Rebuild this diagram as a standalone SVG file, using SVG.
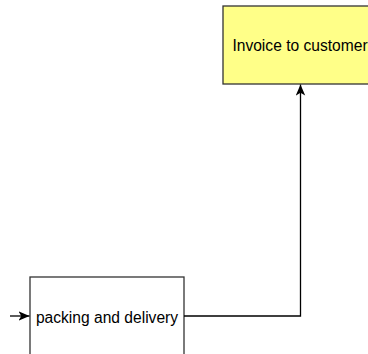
<svg xmlns="http://www.w3.org/2000/svg" width="368" height="354" viewBox="0 0 368 354">
  <style>
    .box { stroke: #333333; stroke-width: 1.3; }
    .label { font-family: "Liberation Sans", Arial, sans-serif; font-size: 15.6px; fill: #000000; text-anchor: middle; }
    .edge { fill: none; stroke: #000000; stroke-width: 1.3; }
  </style>
  <defs>
    <marker id="arrow" viewBox="0 0 11 10" refX="11" refY="5" markerWidth="11" markerHeight="10" markerUnits="userSpaceOnUse" orient="auto">
      <path d="M0,0.3 L11,5 L0,9.7 L2.8,5 Z" fill="#000000"/>
    </marker>
  </defs>
  <rect width="368" height="354" fill="#ffffff"/>

  <g id="invoice">
    <rect class="box" x="223" y="6" width="154" height="78" fill="#ffff88"/>
    <text class="label" x="300" y="51">Invoice to customer</text>
  </g>

  <g id="packing">
    <rect class="box" x="30" y="277" width="154" height="78" fill="#ffffff"/>
    <text class="label" x="107" y="323">packing and delivery</text>
  </g>

  <g id="connectors">
    <path class="edge" d="M10,316 L29.5,316" marker-end="url(#arrow)"/>
    <path class="edge" d="M184,316 L300.5,316 L300.5,84.5" marker-end="url(#arrow)"/>
  </g>
</svg>
